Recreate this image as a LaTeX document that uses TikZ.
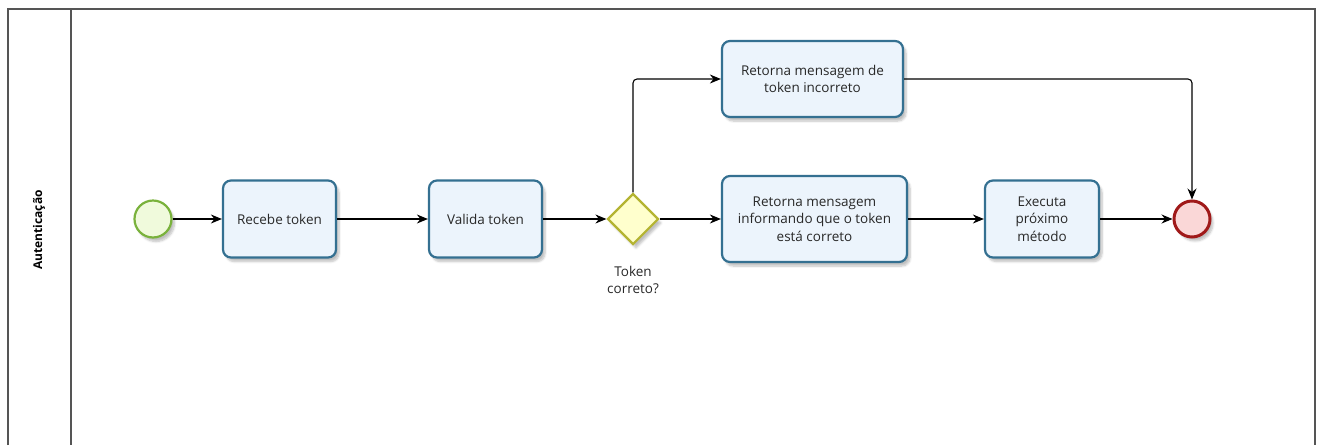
\documentclass[tikz,border=0pt]{standalone}
\usepackage{fontspec}
\setmainfont{Open Sans}
\usetikzlibrary{arrows.meta,shapes.geometric,shadows.blur}
\definecolor{frame}{RGB}{85,85,85}
\definecolor{taskb}{RGB}{52,112,145}
\definecolor{taskf}{RGB}{236,244,252}
\definecolor{startb}{RGB}{122,178,60}
\definecolor{startf}{RGB}{240,250,220}
\definecolor{endb}{RGB}{160,25,25}
\definecolor{endf}{RGB}{250,215,215}
\definecolor{gateb}{RGB}{180,180,50}
\definecolor{gatef}{RGB}{255,255,205}
\definecolor{txt}{RGB}{40,40,40}
\tikzset{
  task/.style={draw=taskb, line width=2.2pt, fill=taskf, rounded corners=8pt,
    align=center, text=txt, font=\fontsize{13.5}{17.5}\selectfont, inner sep=0pt,
    blur shadow={shadow xshift=3pt,shadow yshift=-4pt,shadow blur steps=6,shadow opacity=25}},
  flow/.style={draw=black, line width=1.1pt, -{Stealth[length=11pt,width=9pt]}, rounded corners=4pt},
}
\begin{document}
\begin{tikzpicture}[x=1pt,y=-1pt]
\useasboundingbox (0,0) rectangle (1323,445);
% pool frame
\draw[frame, line width=2pt] (8,445) -- (8,9) -- (1315,9) -- (1315,445);
\draw[frame, line width=2pt] (71,9) -- (71,445);
\node[rotate=90, font=\bfseries\fontsize{12}{14}\selectfont, text=black] (lane) at (39,230) {Autenticação};
% events
\node[circle, draw=startb, line width=2.2pt, fill=startf, minimum size=37pt, inner sep=0pt,
  blur shadow={shadow xshift=3pt,shadow yshift=-4pt,shadow blur steps=6,shadow opacity=25}] (start) at (153,219) {};
\node[circle, draw=endb, line width=3pt, fill=endf, minimum size=36pt, inner sep=0pt,
  blur shadow={shadow xshift=3pt,shadow yshift=-4pt,shadow blur steps=6,shadow opacity=25}] (end) at (1192,219) {};
% tasks
\node[task, minimum width=113pt, minimum height=77pt] (recebe) at (279.5,219) {Recebe token};
\node[task, minimum width=113pt, minimum height=77pt] (valida) at (485.5,219) {Valida token};
\node[task, minimum width=181pt, minimum height=76pt] (incorreto) at (812.5,79) {Retorna mensagem de\\token incorreto};
\node[task, minimum width=185pt, minimum height=86pt] (correto) at (814.5,219) {Retorna mensagem\\informando que o token\\está correto};
\node[task, minimum width=114pt, minimum height=77pt] (executa) at (1042,219) {Executa\\próximo\\método};
% gateway
\node[diamond, draw=gateb, line width=2.2pt, fill=gatef, minimum width=51pt, minimum height=51pt, inner sep=0pt, aspect=1,
  blur shadow={shadow xshift=3pt,shadow yshift=-4pt,shadow blur steps=6,shadow opacity=25}] (gw) at (633,219) {};
\node[align=center, text=txt, font=\fontsize{13.5}{17.5}\selectfont] (gwlabel) at (633,280) {Token\\correto?};
% flows
\draw[flow] (start) -- (recebe);
\draw[flow] (recebe) -- (valida);
\draw[flow] (valida) -- (gw);
\draw[flow] (gw) -- (correto);
\draw[flow] (correto) -- (executa);
\draw[flow] (executa) -- (end);
\draw[flow] (gw.north) |- (incorreto.west);
\draw[flow] (incorreto.east) -| (end.north);
\end{tikzpicture}
\end{document}
